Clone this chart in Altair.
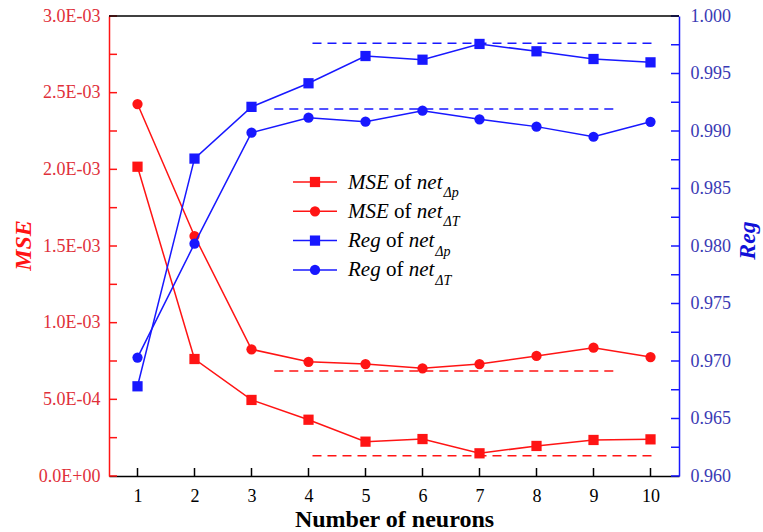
import altair as alt
import pandas as pd

# ---------------- data ----------------
neurons = [1, 2, 3, 4, 5, 6, 7, 8, 9, 10]
mse_dp = [2.017e-3, 0.763e-3, 0.496e-3, 0.367e-3, 0.224e-3, 0.241e-3, 0.148e-3, 0.196e-3, 0.235e-3, 0.239e-3]
mse_dT = [2.426e-3, 1.565e-3, 0.826e-3, 0.745e-3, 0.730e-3, 0.702e-3, 0.730e-3, 0.783e-3, 0.837e-3, 0.776e-3]
reg_dp = [0.9678, 0.9876, 0.9921, 0.99415, 0.99652, 0.9962, 0.99757, 0.99693, 0.99626, 0.99597]
reg_dT = [0.9703, 0.9802, 0.98985, 0.99116, 0.99081, 0.99177, 0.99102, 0.99038, 0.9895, 0.9908]

mse_ref_start = [3.4, 4.07]
mse_ref_end = [9.37, 10.05]
mse_ref_value = [0.685e-3, 0.132e-3]
reg_ref_start = [4.07, 3.4]
reg_ref_end = [10.05, 9.37]
reg_ref_value = [0.99763, 0.99191]

mse_ticks = [i * 0.00025 for i in range(13)]
reg_ticks = [round(0.96 + 0.0025 * i, 4) for i in range(17)]
x_ticks = neurons

series_names = ["Δp", "ΔT"]
legend_prefix = ["MSE", "MSE", "Reg", "Reg"]
legend_sub = ["Δp", "ΔT", "Δp", "ΔT"]

# ---------------- style ----------------
RED = "#ff1414"
BLUE = "#1818ff"
RED_LABEL = "#e0303a"
BLUE_LABEL = "#3a3ab4"
FONT = "Liberation Serif"
W, H = 570, 460
TICK = 8

mse_df = pd.DataFrame({
    "neurons": neurons * 2,
    "value": mse_dp + mse_dT,
    "series": [series_names[0]] * 10 + [series_names[1]] * 10,
})
reg_df = pd.DataFrame({
    "neurons": neurons * 2,
    "value": reg_dp + reg_dT,
    "series": [series_names[0]] * 10 + [series_names[1]] * 10,
})
mse_ref = pd.DataFrame({"start": mse_ref_start, "end": mse_ref_end, "value": mse_ref_value})
reg_ref = pd.DataFrame({"start": reg_ref_start, "end": reg_ref_end, "value": reg_ref_value})
mse_tick_df = pd.DataFrame({"value": mse_ticks})
reg_tick_df = pd.DataFrame({"value": reg_ticks})
x_tick_df = pd.DataFrame({"neurons": x_ticks})

x_axis = alt.Axis(
    values=x_ticks, title="Number of neurons", titleFont=FONT, titleFontSize=24,
    titleFontWeight="bold", titleColor="black", titleY=43, titleBaseline="middle",
    labelFont=FONT, labelFontSize=18, labelColor="black", labelPadding=11,
    labelFlush=False, domainColor="black", domainWidth=1.5, ticks=False, grid=False,
)
x_scale = alt.Scale(domain=[0.5, 10.5], nice=False, zero=False)

mse_axis = alt.Axis(
    orient="left", values=mse_ticks,
    labelExpr=("abs(datum.value*2000 - round(datum.value*2000)) > 0.001 ? '' : "
               "(datum.value == 0 ? '0.0E+00' : (datum.value < 0.00099 ? "
               "format(datum.value*10000, '.1f') + 'E-04' : format(datum.value*1000, '.1f') + 'E-03'))"),
    title="MSE", titleFont=FONT, titleFontSize=24, titleFontStyle="italic",
    titleFontWeight="bold", titleColor=RED, titleAngle=270, titleX=-86, titleY=229,
    titleBaseline="middle", titleAlign="center",
    labelFont=FONT, labelFontSize=18, labelColor=RED_LABEL, labelPadding=9,
    labelFlush=False, labelOverlap=False, domainColor=RED, domainWidth=1.5,
    ticks=False, grid=False,
)
mse_scale = alt.Scale(domain=[0, 0.003], nice=False, zero=False)

reg_axis = alt.Axis(
    orient="right", values=reg_ticks,
    labelExpr="abs(datum.value*200 - round(datum.value*200)) > 0.001 ? '' : format(datum.value, '.3f')",
    title="Reg", titleFont=FONT, titleFontSize=24, titleFontStyle="italic",
    titleFontWeight="bold", titleColor="#1010d8", titleAngle=270, titleX=68, titleY=224,
    titleBaseline="middle", titleAlign="center",
    labelFont=FONT, labelFontSize=18, labelColor=BLUE_LABEL, labelPadding=11,
    labelFlush=False, labelOverlap=False, domainColor=BLUE, domainWidth=1.5,
    ticks=False, grid=False,
)
reg_scale = alt.Scale(domain=[0.96, 1.0], nice=False, zero=False)

shape_enc = alt.Shape("series:N", scale=alt.Scale(domain=series_names, range=["square", "circle"]), legend=None)


def panel(df, ref, tick_df, color, axis, scale, side):
    X = alt.X("neurons:Q", scale=x_scale, axis=x_axis)
    Y = alt.Y("value:Q", scale=scale, axis=axis)
    lines = alt.Chart(df).mark_line(color=color, strokeWidth=1.5).encode(x=X, y=Y, detail="series:N")
    pts = alt.Chart(df).mark_point(filled=True, color=color, size=105, opacity=1).encode(x=X, y=Y, shape=shape_enc)
    dash = alt.Chart(ref).mark_rule(color=color, strokeWidth=1.6, strokeDash=[9, 6]).encode(
        x=alt.X("start:Q", scale=x_scale, axis=x_axis), x2="end:Q", y=Y)
    if side == "left":
        tx0, tx1 = 0, TICK
    else:
        tx0, tx1 = W - TICK, W
    ticks = alt.Chart(tick_df).mark_rule(color=color, strokeWidth=1.5).encode(
        y=Y, x=alt.value(tx0), x2=alt.value(tx1))
    return alt.layer(ticks, dash, lines, pts)


mse_panel = panel(mse_df, mse_ref, mse_tick_df, RED, mse_axis, mse_scale, "left")
reg_panel = panel(reg_df, reg_ref, reg_tick_df, BLUE, reg_axis, reg_scale, "right")

x_tick_marks = alt.Chart(x_tick_df).mark_rule(color="black", strokeWidth=1.5).encode(
    x=alt.X("neurons:Q", scale=x_scale, axis=x_axis), y=alt.value(H - TICK), y2=alt.value(H))

one = pd.DataFrame({"a": [0]})
top_border = alt.Chart(one).mark_rule(color="black", strokeWidth=1.5).encode(
    x=alt.value(0), x2=alt.value(W), y=alt.value(0))

# ---------------- manual legend ----------------
legend_layers = []
FS = 21
SUB_FS = 14
row_y0, row_dy = 166, 29.3
line_x0, line_x1, mark_x, text_x = 184, 228, 206, 239
for i in range(4):
    color = RED if i < 2 else BLUE
    shape = "square" if i % 2 == 0 else "circle"
    yr = row_y0 + i * row_dy
    pre_w = (1.944 if legend_prefix[i] == "MSE" else 1.555) * FS
    x_of = text_x + pre_w + 0.25 * FS
    x_net = x_of + 0.833 * FS + 0.25 * FS
    x_sub = x_net + 1.222 * FS + 1
    base = yr + 6.5
    legend_layers += [
        alt.Chart(one).mark_rule(color=color, strokeWidth=1.5).encode(
            x=alt.value(line_x0), x2=alt.value(line_x1), y=alt.value(yr)),
        alt.Chart(one).mark_point(filled=True, color=color, shape=shape, size=105, opacity=1).encode(
            x=alt.value(mark_x), y=alt.value(yr)),
        alt.Chart(one).mark_text(text=legend_prefix[i], font=FONT, fontSize=FS, fontStyle="italic",
                                 align="left", baseline="alphabetic", color="black").encode(
            x=alt.value(text_x), y=alt.value(base)),
        alt.Chart(one).mark_text(text="of", font=FONT, fontSize=FS,
                                 align="left", baseline="alphabetic", color="black").encode(
            x=alt.value(x_of), y=alt.value(base)),
        alt.Chart(one).mark_text(text="net", font=FONT, fontSize=FS, fontStyle="italic",
                                 align="left", baseline="alphabetic", color="black").encode(
            x=alt.value(x_net), y=alt.value(base)),
        alt.Chart(one).mark_text(text=legend_sub[i], font=FONT, fontSize=SUB_FS, fontStyle="italic",
                                 align="left", baseline="alphabetic", color="black").encode(
            x=alt.value(x_sub), y=alt.value(base + 8.5)),
    ]

chart = alt.layer(mse_panel, reg_panel, x_tick_marks, top_border, *legend_layers).resolve_scale(
    y="independent"
).properties(
    width=W, height=H,
    autosize="none",
    padding={"left": 109, "top": 16, "right": 84, "bottom": 56},
    background="white",
).configure_view(stroke=None)

chart.save("out.html", embed_options={"renderer": "svg", "actions": False})
